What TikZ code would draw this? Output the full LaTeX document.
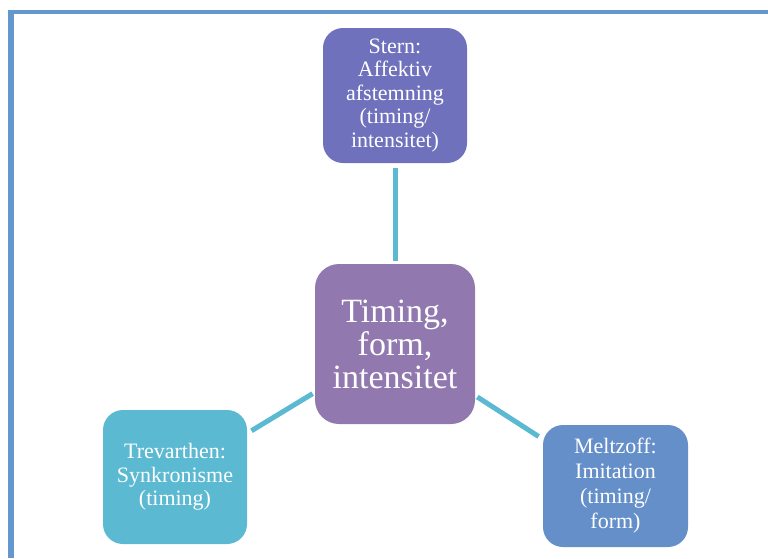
\documentclass[tikz,border=0pt]{standalone}
\usepackage{fontspec}
\setmainfont{Liberation Serif}
\definecolor{framecol}{RGB}{100,151,206}
\definecolor{linkcol}{RGB}{91,185,209}
\definecolor{sterncol}{RGB}{111,113,189}
\definecolor{corecol}{RGB}{145,121,176}
\definecolor{trevcol}{RGB}{91,185,209}
\definecolor{meltcol}{RGB}{100,143,201}
\begin{document}
\begin{tikzpicture}[x=1pt,y=-1pt,
  box/.style={rectangle, rounded corners=20pt, inner sep=0pt, text=white,
    align=center, font=\fontsize{22}{23.5}\selectfont,
    execute at begin node={\rule{0pt}{20pt}}},
  core/.style={box, rounded corners=24pt, font=\fontsize{34}{33}\selectfont,
    execute at begin node={}},
  link/.style={draw=linkcol, line width=5pt}]
\useasboundingbox (0,0) rectangle (768,558);
% page frame (top and left rules)
\fill[framecol] (8,10) rectangle (768,13.5);
\fill[framecol] (8,10) rectangle (14,558);

% boxes
\node[core, fill=corecol, minimum width=160pt, minimum height=160pt] (core) at (395,344)
  {Timing,\\form,\\intensitet};
\node[box, fill=sterncol, minimum width=144pt, minimum height=135pt] (stern) at (395,95.5)
  {Stern:\\Affektiv\\afstemning\\(timing/\\intensitet)};
\node[box, fill=trevcol, minimum width=144pt, minimum height=134pt] (trev) at (175,477)
  {Trevarthen:\\Synkronisme\\(timing)};
\node[box, fill=meltcol, minimum width=145pt, minimum height=122pt,
  font=\fontsize{22}{25}\selectfont] (melt) at (615.5,486)
  {Meltzoff:\\Imitation\\(timing/\\form)};

% connectors
\draw[link, shorten <=5pt, shorten >=2.5pt] (stern) -- (core);
\draw[link, shorten <=5pt, shorten >=2.5pt] (trev) -- (core);
\draw[link, shorten <=5pt, shorten >=2.5pt] (melt) -- (core);
\end{tikzpicture}
\end{document}
